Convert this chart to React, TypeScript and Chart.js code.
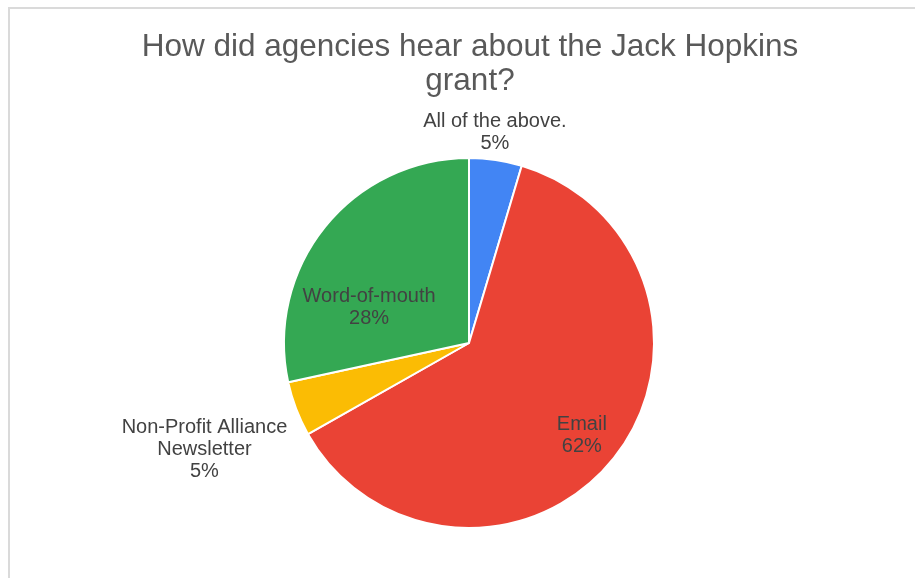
import React, { useEffect, useRef } from "react";
import { Chart, registerables } from "chart.js";

Chart.register(...registerables);

const titleLines = ["How did agencies hear about the Jack Hopkins", "grant?"];
const categories = ["All of the above.", "Email", "Non-Profit Alliance Newsletter", "Word-of-mouth"];
const labelLines = [["All of the above."], ["Email"], ["Non-Profit Alliance", "Newsletter"], ["Word-of-mouth"]];
const values = [4.6, 62.2, 4.8, 28.4];
const colors = ["#4285F4", "#EA4335", "#FBBC04", "#34A853"];
// label anchor offsets in units of pie radius (layout only)
const labelOffsets = [
  [0.14, -1.14],
  [0.61, 0.5],
  [-1.43, 0.575],
  [-0.54, -0.19],
];

const FONT = "'Liberation Sans', Arial, sans-serif";

const labelPlugin = {
  id: "customLabels",
  afterDraw(chart: any) {
    const ctx = chart.ctx;
    ctx.save();
    // title
    ctx.fillStyle = "#595959";
    ctx.font = `31.5px ${FONT}`;
    ctx.textAlign = "center";
    ctx.textBaseline = "alphabetic";
    ctx.fillText(titleLines[0], 470, 56);
    ctx.fillText(titleLines[1], 470, 90);

    const meta = chart.getDatasetMeta(0);
    const arc = meta.data[0];
    const cx = arc.x;
    const cy = arc.y;
    const r = arc.outerRadius;
    const total = values.reduce((a, b) => a + b, 0);
    ctx.font = `20px ${FONT}`;
    ctx.fillStyle = "#424242";
    ctx.textBaseline = "middle";
    const lh = 22;
    values.forEach((v, i) => {
      const lines = [...labelLines[i], Math.round((v / total) * 100) + "%"];
      const x = cx + labelOffsets[i][0] * r;
      const y = cy + labelOffsets[i][1] * r;
      const startY = y - ((lines.length - 1) * lh) / 2;
      lines.forEach((t, j) => ctx.fillText(t, x, startY + j * lh));
    });
    ctx.restore();
  },
};

export default function App() {
  const ref = useRef<HTMLCanvasElement>(null);
  useEffect(() => {
    if (!ref.current) return;
    const chart = new Chart(ref.current, {
      type: "pie",
      data: {
        labels: categories,
        datasets: [
          {
            data: values,
            backgroundColor: colors,
            borderColor: "#ffffff",
            borderWidth: 2,
          },
        ],
      },
      options: {
        responsive: false,
        animation: false,
        layout: { padding: { left: 283, right: 260, top: 157, bottom: 49 } },
        plugins: {
          legend: { display: false },
          tooltip: { enabled: false },
          title: { display: false },
        },
      },
      plugins: [labelPlugin],
    });
    return () => chart.destroy();
  }, []);
  return (
    <div style={{ position: "absolute", left: 0, top: 0, width: 915, height: 578, background: "#fff", overflow: "hidden" }}>
      <div
        style={{
          position: "absolute",
          left: 8,
          top: 7,
          width: 905,
          height: 569,
          borderTop: "2px solid #dadada",
          borderLeft: "2px solid #dadada",
        }}
      />
      <canvas ref={ref} width={915} height={578} style={{ position: "absolute", left: 0, top: 0 }} />
    </div>
  );
}
